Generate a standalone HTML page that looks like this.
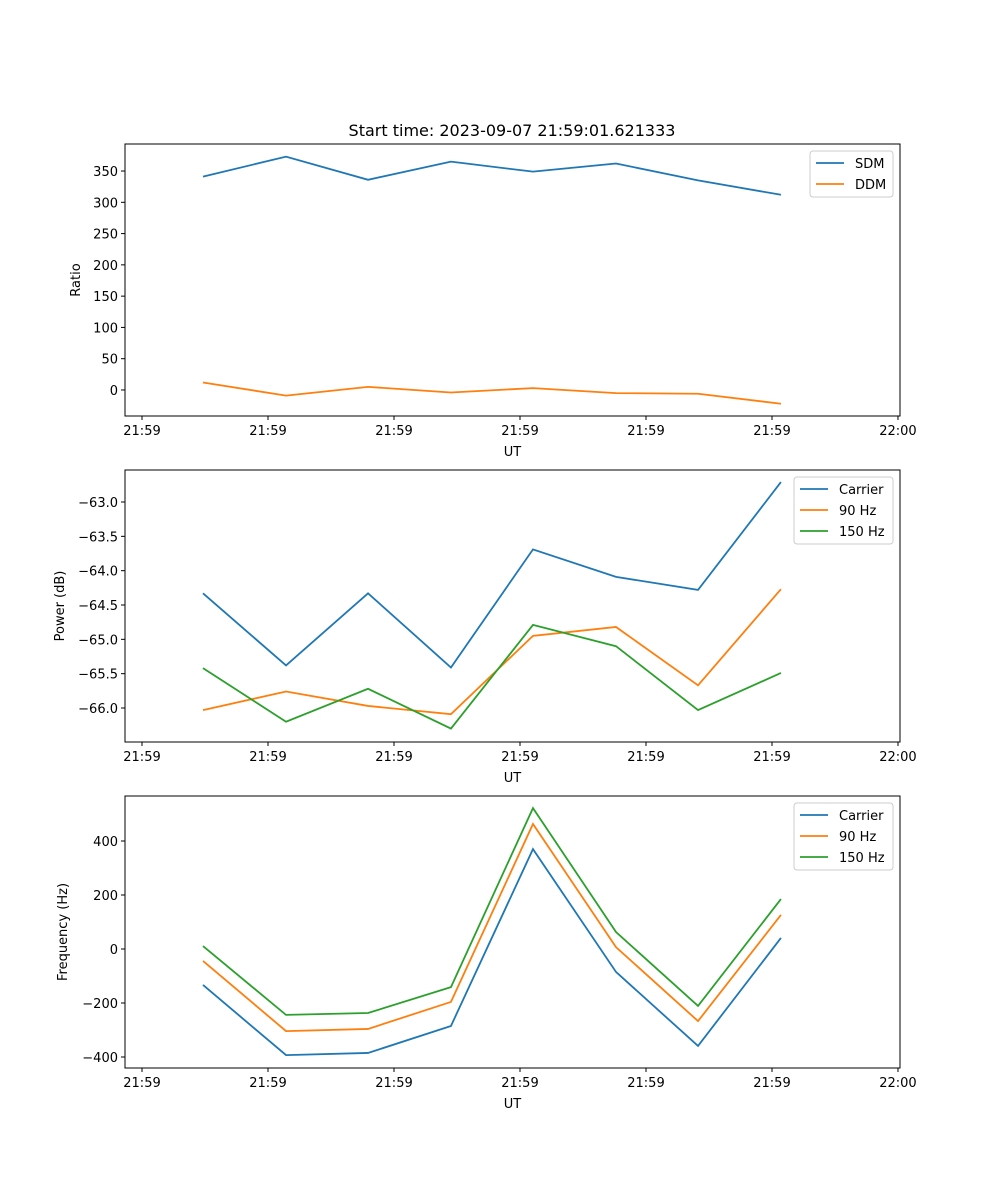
<!DOCTYPE html>
<html><head><meta charset="utf-8"><style>
body{margin:0;background:#fff}
svg{display:block;font-family:"DejaVu Sans","Liberation Sans",sans-serif}
</style></head><body>
<svg id="fig" width="1000" height="1200" xmlns="http://www.w3.org/2000/svg"></svg>
<script>
const times=[4.84,11.43,17.94,24.52,31.03,37.62,44.13,50.71];
const xTickVals=[0,10,20,30,40,50,60];
const xTickLabels=["21:59","21:59","21:59","21:59","21:59","21:59","22:00"];
const sdm=[341,373,336,365,349,362,335,312];
const ddm=[12,-9,5,-4,3,-5,-6,-22];
const pCarrier=[-64.33,-65.38,-64.33,-65.41,-63.69,-64.09,-64.28,-62.71];
const p90=[-66.03,-65.76,-65.97,-66.09,-64.95,-64.82,-65.67,-64.27];
const p150=[-65.42,-66.20,-65.72,-66.30,-64.79,-65.10,-66.03,-65.49];
const fCarrier=[-133,-393,-385,-285,370,-85,-359,41];
const f90=[-44,-304,-296,-196,463,7,-267,126];
const f150=[11,-244,-237,-141,522,63,-211,185];
const yTicks1=[0,50,100,150,200,250,300,350];
const yTicks2=[-66.0,-65.5,-65.0,-64.5,-64.0,-63.5,-63.0];
const yTicks3=[-400,-200,0,200,400];

const NS="http://www.w3.org/2000/svg",svg=document.getElementById('fig');
function mk(t,a,p){const e=document.createElementNS(NS,t);for(const k in a)e.setAttribute(k,a[k]);(p||svg).appendChild(e);return e;}
const L=125,R=900,X0=-1.35,X1=60.16;
const sx=v=>L+(v-X0)/(X1-X0)*(R-L);
function panel(name,top,bot,y0,y1,yt,fmt,ylabel,series,legend){
  const g=mk('g',{});
  
  
  const sy=v=>bot-(v-y0)/(y1-y0)*(bot-top);
  series.forEach(s=>{
    const pl=mk('polyline',{points:s.d.map((v,i)=>sx(times[i])+','+sy(v)).join(' '),fill:'none',stroke:s.c,'stroke-width':1.8},g);
    
    
  });
  mk('rect',{x:L,y:top,width:R-L,height:bot-top,fill:'none',stroke:'#000','stroke-width':1},g);
  xTickVals.forEach((v,i)=>{const x=sx(v);mk('line',{x1:x,x2:x,y1:bot,y2:bot+4,stroke:'#000'},g);
    const t=mk('text',{x:x,y:bot+19,'text-anchor':'middle','font-size':13},g);t.textContent=xTickLabels[i];
    });
  yt.forEach(v=>{const y=sy(v);mk('line',{x1:L-4,x2:L,y1:y,y2:y,stroke:'#000'},g);
    const t=mk('text',{x:L-7,y:y+5,'text-anchor':'end','font-size':13},g);t.textContent=fmt(v).replace('-','\u2212');
    });
  const xl=mk('text',{x:(L+R)/2,y:bot+40,'text-anchor':'middle','font-size':13},g);xl.textContent='UT';
  
  const yl=mk('text',{x:0,y:0,'text-anchor':'middle','font-size':13,transform:`translate(${ylabel.x},${(top+bot)/2}) rotate(-90)`},g);yl.textContent=ylabel.t;
  
  const lg=mk('g',{},g);
  
  mk('rect',{x:legend.x,y:top+7,width:legend.w,height:series.length*21+4,rx:3,fill:'#fff',stroke:'#ccc'},lg);
  series.forEach((s,i)=>{const y=top+19+i*21;
    mk('line',{x1:legend.x+6,x2:legend.x+34,y1:y,y2:y,stroke:s.c,'stroke-width':1.8},lg);
    const t=mk('text',{x:legend.x+45,y:y+5,'font-size':13},lg);t.textContent=s.n;
    });
}
const B='#1f77b4',O='#ff7f0e',G='#2ca02c';
const tt=mk('text',{x:512,y:136,'text-anchor':'middle','font-size':16});tt.textContent='Start time: 2023-09-07 21:59:01.621333';

panel('ratio-panel',144,416,-41.6,393.2,yTicks1,v=>String(v),{x:80,t:'Ratio'},[{n:'SDM',d:sdm,c:B},{n:'DDM',d:ddm,c:O}],{x:810,w:83});
panel('power-panel',470,742,-66.495,-62.534,yTicks2,v=>v.toFixed(1),{x:64,t:'Power (dB)'},[{n:'Carrier',d:pCarrier,c:B},{n:'90 Hz',d:p90,c:O},{n:'150 Hz',d:p150,c:G}],{x:794,w:99});
panel('frequency-panel',796,1068,-440.7,566.7,yTicks3,v=>String(v),{x:67,t:'Frequency (Hz)'},[{n:'Carrier',d:fCarrier,c:B},{n:'90 Hz',d:f90,c:O},{n:'150 Hz',d:f150,c:G}],{x:794,w:99});
</script>
</body></html>
